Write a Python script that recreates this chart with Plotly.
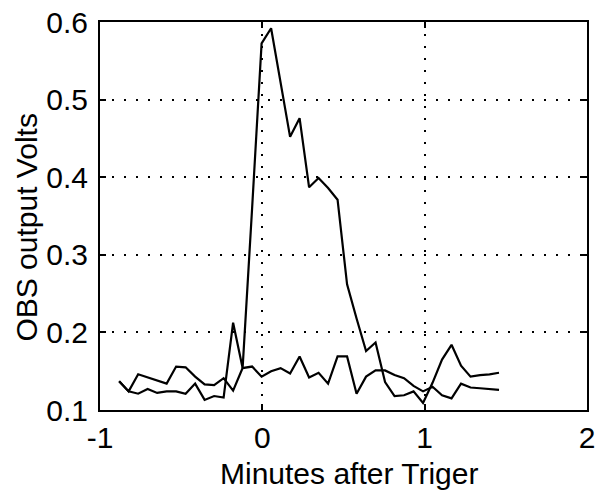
import plotly.graph_objects as go

# Time grid (minutes after trigger)
minutes = [-0.882, -0.8235, -0.765, -0.7065, -0.648, -0.5895, -0.531, -0.4725,
           -0.414, -0.3555, -0.297, -0.2385, -0.180, -0.1215, -0.063, -0.0045,
           0.054, 0.1125, 0.171, 0.2295, 0.288, 0.3465, 0.405, 0.4635,
           0.522, 0.5805, 0.639, 0.6975, 0.756, 0.8145, 0.873, 0.9315,
           0.990, 1.0485, 1.107, 1.1655, 1.224, 1.2825, 1.341, 1.3995, 1.458]

# Series with the turbidity peak
obs_peak = [0.137, 0.124, 0.121, 0.127, 0.122, 0.124, 0.124, 0.121,
            0.134, 0.113, 0.118, 0.116, 0.2125, 0.154, 0.36, 0.5725,
            0.592, 0.522, 0.452, 0.476, 0.387, 0.399, 0.386, 0.371,
            0.262, 0.218, 0.176, 0.187, 0.136, 0.118, 0.119, 0.124,
            0.109, 0.135, 0.165, 0.184, 0.157, 0.143, 0.145, 0.146, 0.148]

# Background series
obs_base = [0.137, 0.124, 0.146, 0.142, 0.137, 0.134, 0.156, 0.155,
            0.143, 0.133, 0.132, 0.141, 0.125, 0.154, 0.156, 0.143,
            0.150, 0.154, 0.147, 0.169, 0.142, 0.148, 0.134, 0.169,
            0.169, 0.121, 0.143, 0.151, 0.151, 0.145, 0.141, 0.131,
            0.124, 0.130, 0.119, 0.115, 0.134, 0.129, 0.128, 0.127, 0.126]

x_ticks = [-1, 0, 1, 2]
x_tick_text = ["-1", "0", "1", "2"]
y_ticks = [0.1, 0.2, 0.3, 0.4, 0.5, 0.6]
y_tick_text = ["0.1", "0.2", "0.3", "0.4", "0.5", "0.6"]
x_title = "Minutes after Triger"
y_title = "OBS output Volts"

FONT = "Liberation Sans, Arial, Helvetica, sans-serif"

fig = go.Figure()
for ys in (obs_base, obs_peak):
    fig.add_trace(go.Scatter(x=minutes, y=ys, mode="lines",
                             line=dict(color="black", width=2.2),
                             showlegend=False, hoverinfo="skip"))

axis_common = dict(
    showline=True, linecolor="black", linewidth=2, mirror="ticks",
    ticks="inside", ticklen=6, tickwidth=1.5, tickcolor="black",
    showgrid=True, gridcolor="black", gridwidth=1.6, griddash="2px,10px",
    zeroline=False, automargin=False, ticklabeloverflow="allow",
    tickfont=dict(family=FONT, size=30, color="black"),
)

fig.update_xaxes(range=[-1, 2], tickvals=x_ticks, ticktext=x_tick_text,
                 **axis_common)
fig.update_yaxes(range=[0.1, 0.6], tickvals=y_ticks, ticktext=y_tick_text,
                 ticklabelstandoff=4, **axis_common)

fig.add_annotation(text=x_title, xref="paper", yref="paper",
                   x=0.512, y=-0.163, xanchor="center", yanchor="middle",
                   showarrow=False,
                   font=dict(family=FONT, size=30, color="black"))
fig.add_annotation(text=y_title, xref="paper", yref="paper",
                   x=-0.15, y=0.47, xanchor="center", yanchor="middle",
                   textangle=-90, showarrow=False,
                   font=dict(family=FONT, size=30, color="black"))

fig.update_layout(
    width=595, height=492,
    margin=dict(l=100, r=8, t=22, b=82),
    plot_bgcolor="white", paper_bgcolor="white",
    font=dict(family=FONT, color="black"),
)

# remove the default 8px page margin so the figure sits at the window origin
fig.write_html("out.html",
               config={"displayModeBar": False},
               post_script="document.body.style.margin='0';document.body.style.overflow='hidden';")
